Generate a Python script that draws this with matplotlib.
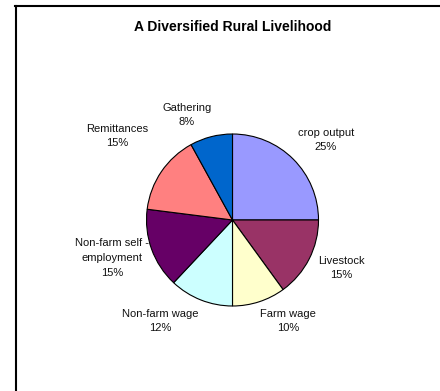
import matplotlib
matplotlib.use("Agg")
import matplotlib.pyplot as plt
from matplotlib.lines import Line2D

plt.rcParams['font.family'] = ['Liberation Sans', 'DejaVu Sans']

labels = ['crop output', 'Livestock', 'Farm wage', 'Non-farm wage',
          'Non-farm self -\nemployment', 'Remittances', 'Gathering']
shares = [25, 15, 10, 12, 15, 15, 8]
colors = ['#9999FF', '#993366', '#FFFFCC', '#CCFFFF',
          '#660066', '#FF8080', '#0066CC']

# label block centres in pixel coords (y from top), Excel-style placement
label_pos = [(326, 140), (341, 268), (288, 321), (160, 321),
             (112, 258), (117, 136), (187, 115)]

W, H = 440, 391
fig = plt.figure(figsize=(W / 100, H / 100), dpi=100)
ax = fig.add_axes([0, 0, 1, 1])
ax.set_xlim(0, W)
ax.set_ylim(0, H)
ax.set_aspect('equal')
ax.axis('off')

ax.pie(shares, colors=colors, startangle=90, counterclock=False,
       center=(232.5, H - 220), radius=86,
       wedgeprops=dict(edgecolor='black', linewidth=0.8))
ax.set_xlim(0, W)
ax.set_ylim(0, H)

for lab, v, (x, y) in zip(labels, shares, label_pos):
    ax.text(x, H - y, f'{lab}\n{v}%', ha='center', va='center',
            fontsize=8, linespacing=1.6, color='#111111')

ax.text(232.5, H - 27, 'A Diversified Rural Livelihood', ha='center',
        va='center', fontsize=10, fontweight='bold')

# chart-area border (left and top edges visible)
fig.add_artist(Line2D([15.5 / W, 15.5 / W], [0, 1 - 6 / H],
                      transform=fig.transFigure, color='black', lw=1.5))
fig.add_artist(Line2D([15 / W, 439 / W], [1 - 6 / H, 1 - 6 / H],
                      transform=fig.transFigure, color='black', lw=1.5))

fig.savefig('out.png', dpi=100)
